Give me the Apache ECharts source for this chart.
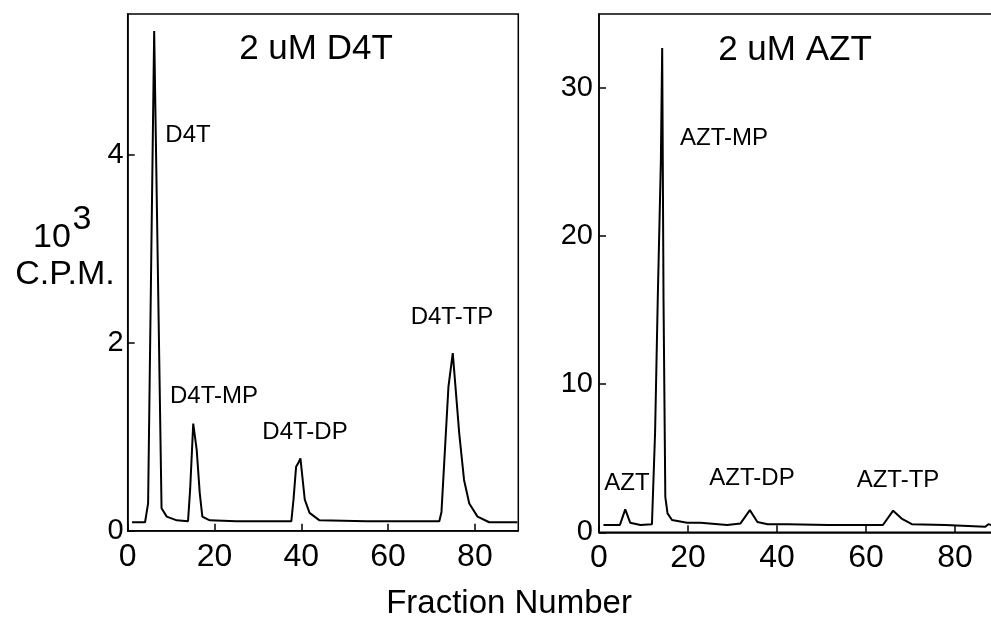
<!DOCTYPE html>
<html>
<head>
<meta charset="utf-8">
<script src="https://cdn.jsdelivr.net/npm/echarts@6/dist/echarts.min.js"></script>
<style>
  html, body { margin: 0; padding: 0; background: #fff; }
  #chart { width: 991px; height: 630px; }
</style>
</head>
<body>
<div id="chart"></div>
<script>
// fraction number / cpm (x10^3)
const d4tFractions = [1, 4, 4.7, 6.1, 7.8, 9.0, 11.3, 13.9, 14.4, 15.1, 15.9, 16.6, 17.2, 18.9, 25, 37.7, 38.2, 38.8, 39.3, 39.8, 40.8, 41.9, 44.2, 55, 71.8, 72.3, 73.9, 74.9, 76.4, 77.5, 78.7, 80.6, 83.3, 89.8]
const d4tCpm = [0.09, 0.09, 0.29, 5.32, 0.24, 0.15, 0.11, 0.10, 0.45, 1.14, 0.86, 0.40, 0.15, 0.11, 0.10, 0.10, 0.33, 0.68, 0.72, 0.77, 0.33, 0.19, 0.11, 0.10, 0.10, 0.20, 1.53, 1.89, 1.03, 0.54, 0.29, 0.15, 0.09, 0.09]

const aztFractions = [1.0, 4.7, 5.9, 7.0, 9.3, 11.9, 12.3, 12.6, 13.2, 13.9, 14.2, 14.5, 14.9, 15.4, 16.4, 19.8, 22.8, 28.8, 31.8, 33.9, 35.6, 37.9, 42.4, 51.5, 63.8, 66.1, 68.0, 70.3, 77.8, 86.8, 87.5, 88.5]
const aztCpm = [0.49, 0.5, 1.55, 0.65, 0.49, 0.55, 0.6, 6.7, 15.7, 25, 32.7, 15.7, 2.4, 1.28, 0.83, 0.65, 0.65, 0.49, 0.6, 1.5, 0.7, 0.55, 0.55, 0.49, 0.49, 1.46, 0.93, 0.55, 0.5, 0.38, 0.55, 0.45]

const xTicks = [0, 20, 40, 60, 80]
const d4tTicks = [0, 2, 4]
const aztTicks = [0, 10, 20, 30]

const panelTitles = ['2 uM D4T', '2 uM AZT']
const d4tPeaks = ['D4T', 'D4T-MP', 'D4T-DP', 'D4T-TP']
const aztPeaks = ['AZT', 'AZT-MP', 'AZT-DP', 'AZT-TP']

const font = '"Liberation Sans", Arial, sans-serif'

function xAxisFor (idx) {
  return {
    type: 'value',
    gridIndex: idx,
    min: 0,
    max: 90,
    axisLine: { show: true, lineStyle: { color: '#000', width: 1.5 } },
    axisTick: { show: true, inside: true, length: 7, customValues: xTicks, lineStyle: { color: '#000', width: 1.5 } },
    axisLabel: { customValues: xTicks, margin: 10, color: '#000', fontSize: 32, fontFamily: font },
    splitLine: { show: false }
  }
}

function yAxisFor (idx, max, ticks, margin) {
  return {
    type: 'value',
    gridIndex: idx,
    min: 0,
    max: max,
    axisLine: { show: true, lineStyle: { color: '#000', width: 1.5 } },
    axisTick: { show: true, inside: true, length: 7, customValues: ticks, lineStyle: { color: '#000', width: 1.5 } },
    axisLabel: { customValues: ticks, margin: margin, color: '#000', fontSize: 29, fontFamily: font },
    splitLine: { show: false }
  }
}

function txt (text, x, y, size) {
  return {
    type: 'text',
    x: x,
    y: y,
    style: {
      text: text,
      font: size + 'px ' + font,
      fill: '#000',
      align: 'center',
      verticalAlign: 'middle',
      textAlign: 'center',
      textVerticalAlign: 'middle'
    }
  }
}

const chart = echarts.init(document.getElementById('chart'), null, { renderer: 'canvas' })

const option = {
  backgroundColor: '#fff',
  animation: false,
  grid: [
    { left: 127.7, right: 472.7, top: 14, bottom: 99.3, outerBoundsMode: 'none', show: true, borderColor: '#000', borderWidth: 1.5 },
    // the right panel runs past the edge of the page
    { left: 599, width: 400.5, top: 14, bottom: 97.7, outerBoundsMode: 'none', show: true, borderColor: '#000', borderWidth: 1.5 }
  ],
  xAxis: [xAxisFor(0), xAxisFor(1)],
  yAxis: [yAxisFor(0, 5.5, d4tTicks, 4), yAxisFor(1, 35, aztTicks, 6)],
  series: [
    {
      type: 'line',
      xAxisIndex: 0,
      yAxisIndex: 0,
      data: d4tFractions.map((f, i) => [f, d4tCpm[i]]),
      showSymbol: false,
      lineStyle: { color: '#000', width: 2 }
    },
    {
      type: 'line',
      xAxisIndex: 1,
      yAxisIndex: 1,
      data: aztFractions.map((f, i) => [f, aztCpm[i]]),
      showSymbol: false,
      lineStyle: { color: '#000', width: 2 }
    }
  ],
  graphic: [
    txt(panelTitles[0], 316, 49, 35),
    txt(panelTitles[1], 795, 50, 35),
    txt(d4tPeaks[0], 188, 135, 24),
    txt(d4tPeaks[1], 214, 396, 24),
    txt(d4tPeaks[2], 305, 432, 24),
    txt(d4tPeaks[3], 452, 317, 24),
    txt(aztPeaks[0], 627, 483, 24),
    txt(aztPeaks[1], 724, 138, 24),
    txt(aztPeaks[2], 752, 478, 24),
    txt(aztPeaks[3], 898, 480, 24),
    txt('10', 52, 238, 34),
    txt('3', 82, 220, 34),
    txt('C.P.M.', 65, 275, 34),
    txt('Fraction Number', 509, 604, 33)
  ]
}

chart.setOption(option)
</script>
</body>
</html>
